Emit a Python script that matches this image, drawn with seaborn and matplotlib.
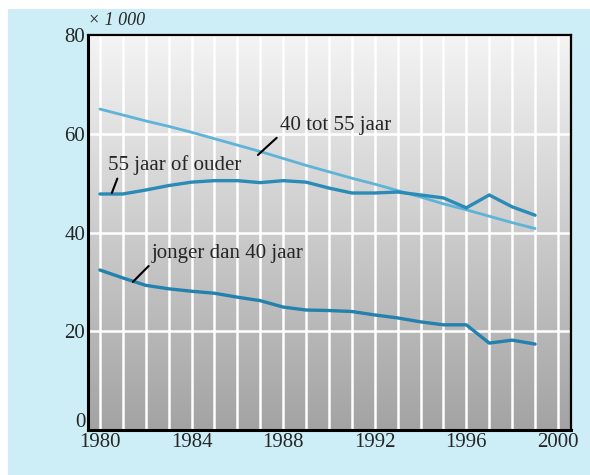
import matplotlib
matplotlib.use("Agg")
import matplotlib.pyplot as plt
import matplotlib.transforms as mtransforms
import seaborn as sns
import numpy as np
import pandas as pd

# data (x 1000)
years = list(range(1980, 2000))
age_40_55 = [65.0, 63.8, 62.6, 61.5, 60.3, 59.0, 57.7, 56.4, 55.0, 53.6,
             52.3, 51.0, 49.8, 48.5, 47.2, 45.8, 44.6, 43.3, 42.0, 40.8]
age_55_plus = [47.8, 47.8, 48.6, 49.5, 50.2, 50.5, 50.5, 50.1, 50.5, 50.2,
               49.0, 48.0, 48.0, 48.2, 47.6, 47.0, 45.0, 47.6, 45.2, 43.5]
age_under_40 = [32.4, 30.8, 29.3, 28.6, 28.1, 27.7, 26.9, 26.2, 24.9, 24.3,
                24.2, 24.0, 23.3, 22.7, 21.9, 21.3, 21.3, 17.6, 18.2, 17.4]
label_40_55 = "40 tot 55 jaar"
label_55_plus = "55 jaar of ouder"
label_under_40 = "jonger dan 40 jaar"

df = pd.DataFrame({"jaar": years, "a": age_40_55, "b": age_55_plus, "c": age_under_40})

sns.set_style("white")
plt.rcParams["font.family"] = ["Liberation Serif", "DejaVu Serif"]

fig = plt.figure(figsize=(5.9, 4.75), dpi=100, facecolor="white")
# light blue panel behind the chart
fig.patches.append(plt.Rectangle((8 / 590, 0), 1, 466 / 475, transform=fig.transFigure,
                                 facecolor="#cdeef7", edgecolor="none", zorder=-1))
ax = fig.add_axes([88 / 590, 45 / 475, 483 / 590, 395 / 475])

# grey gradient background, light at the top
grad = np.linspace(0, 1, 256).reshape(-1, 1)
cmap = matplotlib.colors.LinearSegmentedColormap.from_list("g", ["#f4f4f4", "#a3a3a3"])
ax.imshow(grad, cmap=cmap, aspect="auto", origin="upper", extent=(0, 1, 0, 1),
          transform=ax.transAxes, zorder=0)

sns.lineplot(data=df, x="jaar", y="a", color="#5db3d8", linewidth=2.0, ax=ax, zorder=3)
sns.lineplot(data=df, x="jaar", y="b", color="#2a8bb6", linewidth=2.4, ax=ax, zorder=4)
sns.lineplot(data=df, x="jaar", y="c", color="#2281ad", linewidth=2.4, ax=ax, zorder=4)

ax.set_xlim(1979.48, 2000.57)
ax.set_ylim(0, 80)
ax.set_xticks(range(1980, 2001, 4))
ax.set_xticks(range(1980, 2001), minor=True)
ax.set_yticks([0, 20, 40, 60, 80])
ax.grid(which="both", color="white", linewidth=1.8, zorder=1)
ax.tick_params(which="both", length=0)
ax.tick_params(axis="y", pad=2, labelsize=15)
ax.tick_params(axis="x", pad=2, labelsize=15)
ax.set_xlabel("")
ax.set_ylabel("")
for side in ["left", "bottom"]:
    ax.spines[side].set_linewidth(2.2)
for side in ["top", "right"]:
    ax.spines[side].set_linewidth(1.6)
for s in ax.spines.values():
    s.set_color("black")
    s.set_zorder(6)

# lift the "0" label a little so it sits above "1980"
zero = ax.get_yticklabels()[0]
zero.set_transform(zero.get_transform() + mtransforms.ScaledTranslation(0, 7 / 72, fig.dpi_scale_trans))

ax.text(0, 1.015, "× 1 000", transform=ax.transAxes, fontsize=13, style="italic",
        ha="left", va="bottom")

# labels with leader lines
arrow = dict(arrowstyle="-", color="black", lw=1.5, shrinkA=0, shrinkB=0)
ax.annotate(label_55_plus, xy=(1980.52, 48.0), xytext=(1980.35, 53.6), fontsize=15,
            va="center", ha="left", arrowprops=dict(arrow, relpos=(0.08, 0.0)), zorder=7)
ax.annotate(label_40_55, xy=(1986.9, 55.7), xytext=(1987.86, 61.7), fontsize=15,
            va="center", ha="left", arrowprops=dict(arrow, relpos=(0.0, 0.0)), zorder=7)
ax.annotate(label_under_40, xy=(1981.44, 30.0), xytext=(1982.27, 35.8), fontsize=15,
            va="center", ha="left", arrowprops=dict(arrow, relpos=(0.0, 0.0)), zorder=7)

fig.savefig("out.png", dpi=100)
